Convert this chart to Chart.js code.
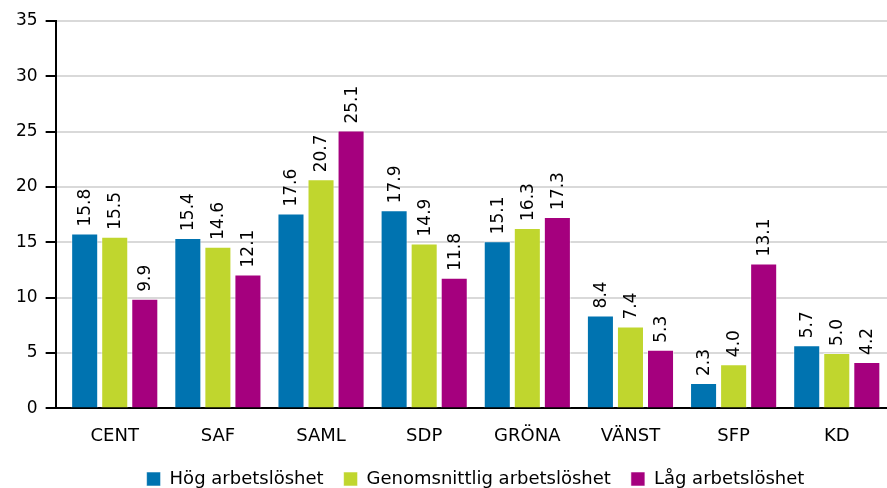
<!DOCTYPE html>
<html>
<head>
<meta charset="utf-8">
<script src="https://cdn.jsdelivr.net/npm/chart.js@4/dist/chart.umd.min.js"></script>
<style>
  html, body { margin: 0; padding: 0; background: #fff; overflow: hidden; }
  #wrap { width: 887px; height: 488px; overflow: hidden; }
</style>
</head>
<body>
<div id="wrap"><canvas id="chart" width="887" height="512"></canvas></div>
<script>
const categories = ["CENT", "SAF", "SAML", "SDP", "GRÖNA", "VÄNST", "SFP", "KD"];
const hog    = [15.8, 15.4, 17.6, 17.9, 15.1, 8.4, 2.3, 5.7];
const genoms = [15.5, 14.6, 20.7, 14.9, 16.3, 7.4, 4.0, 5.0];
const lag    = [9.9, 12.1, 25.1, 11.8, 17.3, 5.3, 13.1, 4.2];
const seriesNames = ["Hög arbetslöshet", "Genomsnittlig arbetslöshet", "Låg arbetslöshet"];
const colors = ["#0073b0", "#c0d62e", "#a5007e"];

const FONT = "'DejaVu Sans', Verdana, sans-serif";

// rotated value labels above each bar
const barLabels = {
  id: "barLabels",
  afterDatasetsDraw(chart) {
    const ctx = chart.ctx;
    ctx.save();
    ctx.font = "17px " + FONT;
    ctx.fillStyle = "#000";
    ctx.textAlign = "left";
    ctx.textBaseline = "middle";
    chart.data.datasets.forEach((ds, i) => {
      chart.getDatasetMeta(i).data.forEach((bar, j) => {
        ctx.save();
        ctx.translate(bar.x + 1, bar.y - 7);
        ctx.rotate(-Math.PI / 2);
        ctx.fillText(ds.data[j].toFixed(1), 0, 0);
        ctx.restore();
      });
    });
    ctx.restore();
  }
};

// pull the legend up a bit (closer to the category labels) and to the right
const legendNudge = {
  id: "legendNudge",
  afterLayout(chart) {
    const lg = chart.legend;
    if (!lg) return;
    lg.top -= 14;
    lg.bottom -= 14;
    lg.left += 28;
    lg.right += 28;
  }
};

new Chart(document.getElementById("chart"), {
  type: "bar",
  data: {
    labels: categories,
    datasets: [hog, genoms, lag].map((d, i) => ({
      label: seriesNames[i],
      data: d,
      backgroundColor: colors[i],
      borderColor: "rgba(255,255,255,0.55)",
      borderWidth: 1,
      barPercentage: 0.9,
      categoryPercentage: 0.874
    }))
  },
  options: {
    responsive: false,
    animation: false,
    layout: { padding: { top: 21, right: 0, left: 8, bottom: 0 } },
    scales: {
      x: {
        grid: { display: false, drawTicks: false },
        border: { color: "#000", width: 2 },
        ticks: { color: "#000", font: { family: FONT, size: 18 }, padding: 17 },
        // small gap between the y axis and the first group
        afterBuildTicks(scale) {
          scale._startValue = -0.573;
          scale._valueRange = 8.06;
        }
      },
      y: {
        min: 0, max: 35,
        ticks: { stepSize: 5, color: "#000", font: { family: FONT, size: 17 }, padding: 8 },
        grid: { color: "#d9d9d9", lineWidth: 2, tickColor: "#000", tickLength: 10 },
        border: { color: "#000", width: 2 }
      }
    },
    plugins: {
      tooltip: { enabled: false },
      legend: {
        position: "bottom",
        labels: {
          color: "#000",
          font: { family: FONT, size: 18 },
          boxWidth: 14, boxHeight: 14, padding: 20
        }
      }
    }
  },
  plugins: [barLabels, legendNudge]
});
</script>
</body>
</html>
